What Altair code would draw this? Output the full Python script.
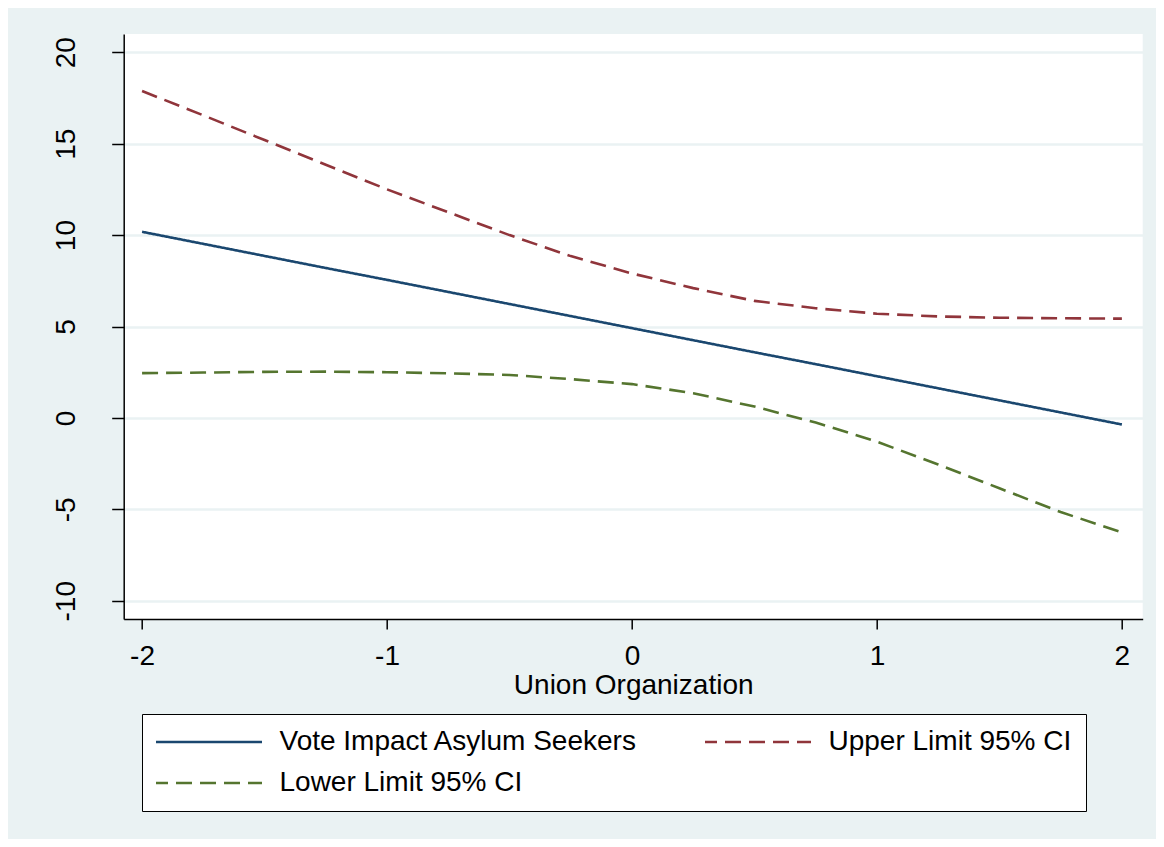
import altair as alt
import pandas as pd

x_vals = [-2.0, -1.75, -1.5, -1.25, -1.0, -0.75, -0.5, -0.25, 0.0,
          0.25, 0.5, 0.75, 1.0, 1.25, 1.5, 1.75, 2.0]
impact = [10.18, 9.52, 8.86, 8.20, 7.55, 6.89, 6.23, 5.57, 4.91,
          4.25, 3.59, 2.94, 2.28, 1.62, 0.96, 0.30, -0.36]
upper = [17.88, 16.55, 15.2, 13.85, 12.5, 11.25, 10.0, 8.85, 7.9,
         7.1, 6.4, 6.0, 5.7, 5.55, 5.48, 5.45, 5.43]
lower = [2.45, 2.48, 2.52, 2.53, 2.50, 2.44, 2.35, 2.12, 1.85,
         1.35, 0.62, -0.25, -1.30, -2.55, -3.85, -5.15, -6.26]

series_names = ["Vote Impact Asylum Seekers", "Upper Limit 95% CI", "Lower Limit 95% CI"]
series_colors = ["#1A476F", "#90353B", "#55752F"]
series_dashes = [[1, 0], [16, 8], [16, 8]]
x_ticks = [-2, -1, 0, 1, 2]
y_ticks = [-10, -5, 0, 5, 10, 15, 20]
x_title = "Union Organization"

rows = []
for name, vals in zip(series_names, [impact, upper, lower]):
    for xv, yv in zip(x_vals, vals):
        rows.append({"x": xv, "y": yv, "series": name})
df = pd.DataFrame(rows)

FONT = "Liberation Sans"
BG = "#EAF2F3"

legend = alt.Legend(
    title=None,
    orient="none",
    legendX=18.3,
    legendY=680,
    columns=2,
    direction="horizontal",
    symbolType="stroke",
    symbolSize=12100,
    symbolStrokeWidth=2.6,
    symbolOffset=-5.5,
    clipHeight=28,
    rowPadding=13,
    columnPadding=67,
    labelOffset=16,
    labelFont=FONT,
    labelFontSize=28,
    labelColor="black",
    labelLimit=800,
    padding=14,
    strokeColor="black",
    fillColor="white",
)

chart = alt.Chart(df).mark_line(strokeWidth=2.6, clip=True).encode(
    x=alt.X(
        "x:Q",
        scale=alt.Scale(domain=[-2.075, 2.085], nice=False, zero=False),
        axis=alt.Axis(
            values=x_ticks,
            title=x_title,
            labelExpr="datum.value + ''",
            grid=False,
            domainColor="black",
            domainWidth=1.5,
            tickColor="black",
            tickWidth=1.5,
            tickSize=10,
            labelFont=FONT,
            labelFontSize=28,
            labelColor="black",
            labelBaseline="top",
            labelPadding=13,
            labelFlush=False,
            titleFont=FONT,
            titleFontSize=28,
            titleFontWeight="normal",
            titleColor="black",
            titleBaseline="top",
            titleY=52,
        ),
    ),
    y=alt.Y(
        "y:Q",
        scale=alt.Scale(domain=[-11, 21], nice=False, zero=False),
        axis=alt.Axis(
            values=y_ticks,
            title=None,
            labelExpr="datum.value + ''",
            grid=True,
            gridColor=BG,
            gridWidth=2.5,
            domainColor="black",
            domainWidth=1.5,
            tickColor="black",
            tickWidth=1.5,
            tickSize=12,
            labelFont=FONT,
            labelFontSize=28,
            labelColor="black",
            labelAngle=270,
            labelAlign="center",
            labelBaseline="alphabetic",
            labelPadding=37,
            labelFlush=False,
            labelOverlap=False,
        ),
    ),
    color=alt.Color("series:N", scale=alt.Scale(domain=series_names, range=series_colors), legend=legend),
    strokeDash=alt.StrokeDash("series:N", scale=alt.Scale(domain=series_names, range=series_dashes), legend=legend),
).properties(
    width=1019,
    height=585,
    background=BG,
    padding={"left": 115.7, "top": 26, "right": 13.3, "bottom": 220},
    autosize=alt.AutoSizeParams(type="none"),
).configure_view(fill="white", strokeWidth=0)

chart.save("out.html", embed_options={"renderer": "svg", "actions": False})
